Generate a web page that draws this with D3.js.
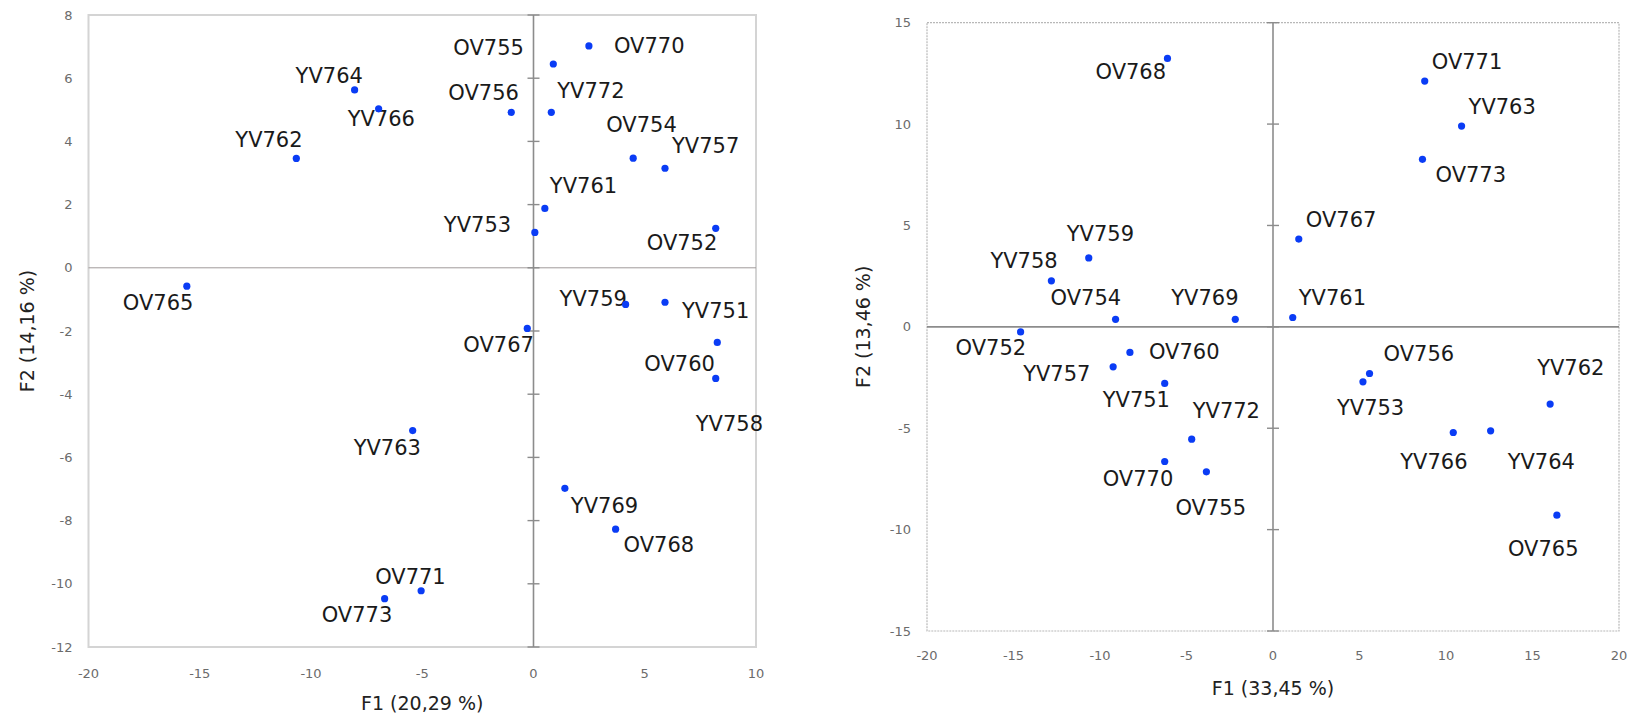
<!DOCTYPE html>
<html lang="en">
<head>
    <meta charset="utf-8"/>
    <title>PCA F1 x F2</title>
    <script src="https://d3js.org/d3.v7.min.js"></script>
    <style>
        body { margin: 0; background: #fff; }
        .tick-lbl { font-family: 'DejaVu Sans', sans-serif; font-size: 13px; fill: #6b6b6b; }
        .ax-title { font-family: 'DejaVu Sans', sans-serif; font-size: 19px; fill: #222; }
        .pt-lbl { font-family: 'DejaVu Sans', sans-serif; font-size: 21px; fill: #1a1a1a; }
    </style>
</head>
<body>
<script>

    // sample names, same order for both panels
    var samples = ['OV752','OV754','OV755','OV756','OV760','OV765','OV767','OV768','OV770','OV771','OV773',
                   'YV751','YV753','YV757','YV758','YV759','YV761','YV762','YV763','YV764','YV766','YV769','YV772'];

    // left panel scores
    var leftF1 = [8.19, 4.48, 0.89, -1.00, 8.26, -15.58, -0.28, 3.69, 2.49, -5.05, -6.69,
                  5.91, 0.06, 5.91, 8.19, 4.14, 0.51, -10.66, -5.43, -8.04, -6.96, 1.41, 0.80];
    var leftF2 = [1.25, 3.47, 6.45, 4.92, -2.36, -0.58, -1.92, -8.27, 7.02, -10.22, -10.47,
                  -1.09, 1.12, 3.15, -3.50, -1.16, 1.88, 3.46, -5.15, 5.63, 5.03, -6.98, 4.92];

    // right panel scores
    var rightF1 = [-14.59, -9.10, -3.85, 5.58, -8.27, 16.41, 1.49, -6.10, -6.26, 8.77, 8.64,
                   -6.26, 5.20, -9.24, -12.81, -10.65, 1.14, 16.02, 10.90, 12.58, 10.42, -2.18, -4.70];
    var rightF2 = [-0.25, 0.37, -7.15, -2.30, -1.26, -9.29, 4.33, 13.24, -6.64, 12.12, 8.26,
                   -2.79, -2.71, -1.97, 2.27, 3.40, 0.46, -3.81, 9.90, -5.13, -5.21, 0.37, -5.54];

    var leftXTicks = [-20, -15, -10, -5, 0, 5, 10];
    var leftYTicks = [-12, -10, -8, -6, -4, -2, 0, 2, 4, 6, 8];
    var rightXTicks = [-20, -15, -10, -5, 0, 5, 10, 15, 20];
    var rightYTicks = [-15, -10, -5, 0, 5, 10, 15];

    // label placement (px from the dot, text start / baseline)
    var leftLabelPos = [[-69,22],[-27,-26],[-100,-9],[-63,-12],[-73,29],[-64,24],[-64,24],[8,23],[25,7],[-46,-7],[-63,23],
                        [17,16],[-91,0],[7,-15],[-20,53],[-66,2],[5,-15],[-61,-11],[-59,24],[-59,-7],[-31,17],[6,25],[6,-14]];
    var rightLabelPos = [[-65,23],[-65,-14],[-31,43],[14,-12],[19,7],[-49,41],[7,-12],[-72,21],[-62,25],[7,-12],[13,23],
                         [-62,24],[-26,33],[-90,14],[-61,-13],[-22,-17],[6,-13],[-13,-29],[7,-12],[17,38],[-53,37],[-64,-14],[1,-21]];

    var width = 1637;
    var height = 721;

    var svg = d3.select("body")
                .append("svg")
                .attr("width", width)
                .attr("height", height);

    function fmt(d) { return String(d); }

    function drawPanel(cfg) {
        var x = d3.scaleLinear().domain(cfg.xDomain).range([cfg.left, cfg.right]);
        var y = d3.scaleLinear().domain(cfg.yDomain).range([cfg.bottom, cfg.top]);
        var g = svg.append("g");

        // plot border
        g.append("rect")
         .attr("x", cfg.left).attr("y", cfg.top)
         .attr("width", cfg.right - cfg.left)
         .attr("height", cfg.bottom - cfg.top)
         .attr("fill", "none")
         .attr("stroke", cfg.borderColor)
         .attr("stroke-width", cfg.borderWidth)
         .attr("stroke-dasharray", cfg.borderDash);

        // zero lines
        g.append("line")
         .attr("x1", cfg.left).attr("x2", cfg.right)
         .attr("y1", y(0)).attr("y2", y(0))
         .attr("stroke", cfg.hzColor).attr("stroke-width", cfg.hzWidth);
        g.append("line")
         .attr("x1", x(0)).attr("x2", x(0))
         .attr("y1", cfg.top).attr("y2", cfg.bottom)
         .attr("stroke", "#8c8c8c").attr("stroke-width", 1.6);

        // tick marks across the vertical zero line
        g.selectAll(".vt")
         .data(cfg.yTicks)
         .enter().append("line")
         .attr("x1", x(0) - 6).attr("x2", x(0) + 6)
         .attr("y1", function(d){ return y(d); })
         .attr("y2", function(d){ return y(d); })
         .attr("stroke", "#8c8c8c").attr("stroke-width", 1.4);

        // tick labels
        g.selectAll(".yl")
         .data(cfg.yTicks)
         .enter().append("text")
         .attr("class", "tick-lbl")
         .attr("x", cfg.left - 16)
         .attr("y", function(d){ return y(d); })
         .attr("dy", "0.35em")
         .attr("text-anchor", "end")
         .text(fmt);
        g.selectAll(".xl")
         .data(cfg.xTicks)
         .enter().append("text")
         .attr("class", "tick-lbl")
         .attr("x", function(d){ return x(d); })
         .attr("y", cfg.xLabelY)
         .attr("dy", "0.35em")
         .attr("text-anchor", "middle")
         .text(fmt);

        // axis titles
        g.append("text")
         .attr("class", "ax-title")
         .attr("x", (cfg.left + cfg.right) / 2)
         .attr("y", cfg.xTitleY)
         .attr("dy", "0.35em")
         .attr("text-anchor", "middle")
         .text(cfg.xTitle);
        g.append("text")
         .attr("class", "ax-title")
         .attr("transform", "translate(" + cfg.yTitleX + "," + (cfg.top + cfg.bottom) / 2 + ") rotate(-90)")
         .attr("dy", "0.35em")
         .attr("text-anchor", "middle")
         .text(cfg.yTitle);

        var pts = samples.map(function(s, i){
            return {name: s, f1: cfg.f1[i], f2: cfg.f2[i], off: cfg.labelPos[i]};
        });

        g.selectAll(".pl")
         .data(pts)
         .enter().append("text")
         .attr("class", "pt-lbl")
         .attr("x", function(d){ return x(d.f1) + d.off[0]; })
         .attr("y", function(d){ return y(d.f2) + d.off[1]; })
         .text(function(d){ return d.name; });

        g.selectAll(".dot")
         .data(pts)
         .enter().append("circle")
         .attr("cx", function(d){ return x(d.f1); })
         .attr("cy", function(d){ return y(d.f2); })
         .attr("r", 3.6)
         .attr("fill", "#0a3cf5");
    }

    drawPanel({
        f1: leftF1, f2: leftF2, labelPos: leftLabelPos,
        xDomain: [-20, 10], yDomain: [-12, 8],
        xTicks: leftXTicks, yTicks: leftYTicks,
        left: 88.5, right: 756, top: 15, bottom: 647,
        xLabelY: 673, xTitleY: 703, yTitleX: 27,
        borderColor: "#d4d4d4", borderWidth: 2, borderDash: null,
        hzColor: "#a09a9a", hzWidth: 1,
        xTitle: "F1 (20,29 %)", yTitle: "F2 (14,16 %)"
    });

    drawPanel({
        f1: rightF1, f2: rightF2, labelPos: rightLabelPos,
        xDomain: [-20, 20], yDomain: [-15, 15],
        xTicks: rightXTicks, yTicks: rightYTicks,
        left: 927, right: 1619, top: 22.7, bottom: 631,
        xLabelY: 655, xTitleY: 688, yTitleX: 863,
        borderColor: "#b8b8b8", borderWidth: 1.2, borderDash: "2,1",
        hzColor: "#8c8c8c", hzWidth: 1.6,
        xTitle: "F1 (33,45 %)", yTitle: "F2 (13,46 %)"
    });

</script>
</body>
</html>
